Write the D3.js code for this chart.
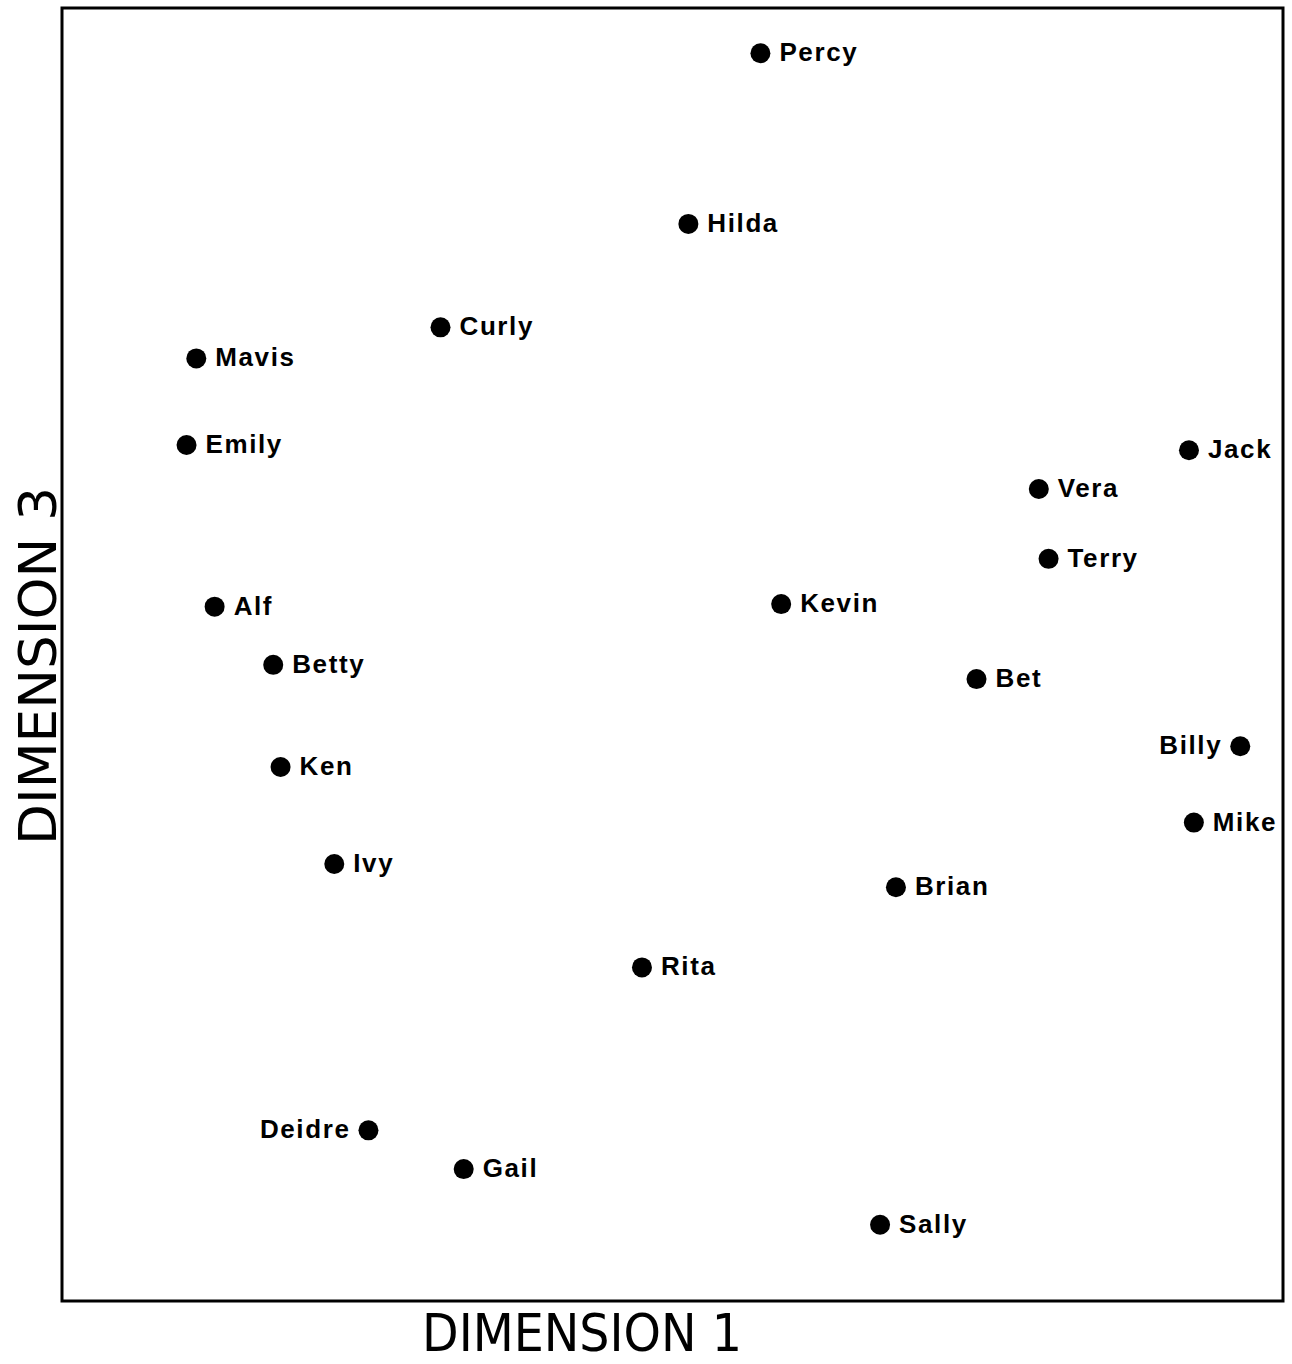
<!DOCTYPE html>
<html>
<head>
<meta charset="utf-8">
<script src="https://cdn.jsdelivr.net/npm/d3@7/dist/d3.min.js"></script>
<style>
  html, body { margin: 0; padding: 0; background: #fff; }
  svg { display: block; }
</style>
</head>
<body>
<div id="chart"></div>
<script>
// Estimated coordinates on dimension 1 (x) and dimension 3 (y), arbitrary 0–100 units
const names = ["Percy","Hilda","Curly","Mavis","Emily","Jack","Vera","Terry","Alf","Kevin","Betty","Bet","Billy","Ken","Mike","Ivy","Brian","Rita","Deidre","Gail","Sally"];
const dim1  = [57.2, 51.3, 31.0, 11.0, 10.2, 92.3, 80.0, 80.8, 12.5, 58.9, 17.3, 74.9, 96.5, 17.9, 92.7, 22.3, 68.3, 47.5, 25.1, 32.9, 67.0];
const dim3  = [96.5, 83.3, 75.3, 72.9, 66.2, 65.8, 62.8, 57.4, 53.7, 53.9, 49.2, 48.1, 42.9, 41.3, 37.0, 33.8, 32.0, 25.8, 13.2, 10.2, 5.9];
const labelSide = ["r","r","r","r","r","r","r","r","r","r","r","r","l","r","r","r","r","r","l","r","r"];
const xTitle = "DIMENSION 1";
const yTitle = "DIMENSION 3";

const W = 1292, H = 1364;
const frame = {left: 62, top: 8, right: 1283, bottom: 1301};

const svg = d3.select("#chart").append("svg").attr("width", W).attr("height", H);

const x = d3.scaleLinear().domain([0, 100]).range([frame.left, frame.right]);
const y = d3.scaleLinear().domain([0, 100]).range([frame.bottom, frame.top]);

svg.append("rect")
  .attr("x", frame.left).attr("y", frame.top)
  .attr("width", frame.right - frame.left).attr("height", frame.bottom - frame.top)
  .attr("fill", "none").attr("stroke", "#000").attr("stroke-width", 3);

const data = names.map((n, i) => ({name: n, x: dim1[i], y: dim3[i], side: labelSide[i]}));

const g = svg.append("g");
g.selectAll("circle").data(data).enter().append("circle")
  .attr("cx", d => x(d.x)).attr("cy", d => y(d.y)).attr("r", 10)
  .attr("fill", "#000");

g.selectAll("text.lbl").data(data).enter().append("text")
  .attr("class", "lbl")
  .attr("x", d => x(d.x) + (d.side === "r" ? 19 : -18))
  .attr("y", d => y(d.y) + 8)
  .attr("text-anchor", d => d.side === "r" ? "start" : "end")
  .attr("font-family", "'Liberation Sans', Arial, sans-serif")
  .attr("font-weight", "bold")
  .attr("font-size", 26)
  .attr("letter-spacing", 1.6)
  .attr("fill", "#000")
  .text(d => d.name);

svg.append("text")
  .attr("x", 422).attr("y", 1351)
  .attr("font-family", "'DejaVu Sans Condensed', 'DejaVu Sans', sans-serif")
  .attr("font-size", 52)
  .attr("textLength", 320).attr("lengthAdjust", "spacingAndGlyphs")
  .attr("fill", "#000")
  .text(xTitle);

svg.append("text")
  .attr("transform", "translate(56,845) rotate(-90)")
  .attr("x", 0).attr("y", 0)
  .attr("font-family", "'DejaVu Sans Condensed', 'DejaVu Sans', sans-serif")
  .attr("font-size", 52)
  .attr("textLength", 358).attr("lengthAdjust", "spacingAndGlyphs")
  .attr("fill", "#000")
  .text(yTitle);
</script>
</body>
</html>
